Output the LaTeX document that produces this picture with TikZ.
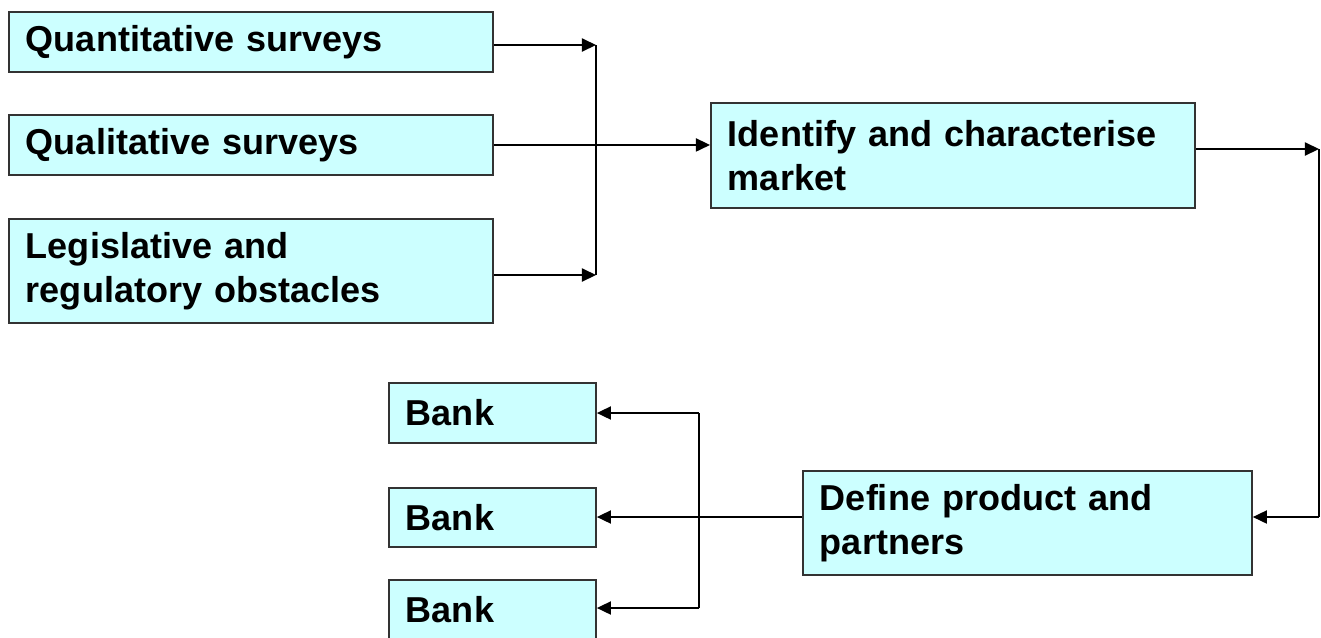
\documentclass[tikz,border=0pt]{standalone}
\usepackage{fontspec}
\setsansfont{Liberation Sans}
\usetikzlibrary{arrows.meta}
\definecolor{boxfill}{HTML}{CCFFFF}

\begin{document}
\begin{tikzpicture}[
  x=0.02cm, y=-0.02cm,
  stage/.style={draw=black!80, fill=boxfill, line width=1.1pt, anchor=north west,
                inner xsep=0.34cm, inner ysep=0pt, align=left,
                font=\sffamily\bfseries\fontsize{20.5}{25}\selectfont},
  wide/.style={stage, text width=9cm},
  link/.style={line width=0.8pt, -{Triangle[length=8pt,width=7.5pt]}},
]
\useasboundingbox (0,0) rectangle (1321,637);

% inputs
\node[wide, minimum height=1.2cm]  (quant) at (8,11)  {Quantitative surveys};
\node[wide, minimum height=1.2cm]  (qual)  at (8,114) {Qualitative surveys};
\node[wide, minimum height=2.08cm] (legis) at (8,218) {Legislative and\\regulatory obstacles};

% market and product
\node[wide, minimum height=2.1cm] (ident) at (710,102) {Identify and characterise\\market};
\node[stage, text width=8.3cm, minimum height=2.08cm] (define) at (802,470)
  {Define product and\\partners};

% banks
\node[stage, text width=3.46cm, minimum height=1.2cm] (bank1) at (388,382) {Bank};
\node[stage, text width=3.46cm, minimum height=1.18cm] (bank2) at (388,487) {Bank};
\node[stage, text width=3.46cm, minimum height=1.2cm] (bank3) at (388,579) {Bank};

% junction points
\coordinate (jtop) at (596,45);
\coordinate (jbot) at (596,275);
\coordinate (rtop) at (1319,149);
\coordinate (rbot) at (1319,517);
\coordinate (btop) at (699,413);
\coordinate (bbot) at (699,608);

\draw[link] (quant.east |- jtop) -- (jtop);
\draw[link] (legis.east |- jbot) -- (jbot);
\draw[line width=0.8pt] (jtop) -- (jbot);
\draw[link] (qual.east) -- (qual.east -| ident.west);

\draw[link] (ident.east |- rtop) -- (rtop);
\draw[line width=0.8pt] (rtop) -- (rbot);
\draw[link] (rbot) -- (rbot -| define.east);

\draw[link] (define.west |- rbot) -- (rbot -| bank2.east);
\draw[line width=0.8pt] (btop) -- (bbot);
\draw[link] (btop) -- (btop -| bank1.east);
\draw[link] (bbot) -- (bbot -| bank3.east);
\end{tikzpicture}
\end{document}
